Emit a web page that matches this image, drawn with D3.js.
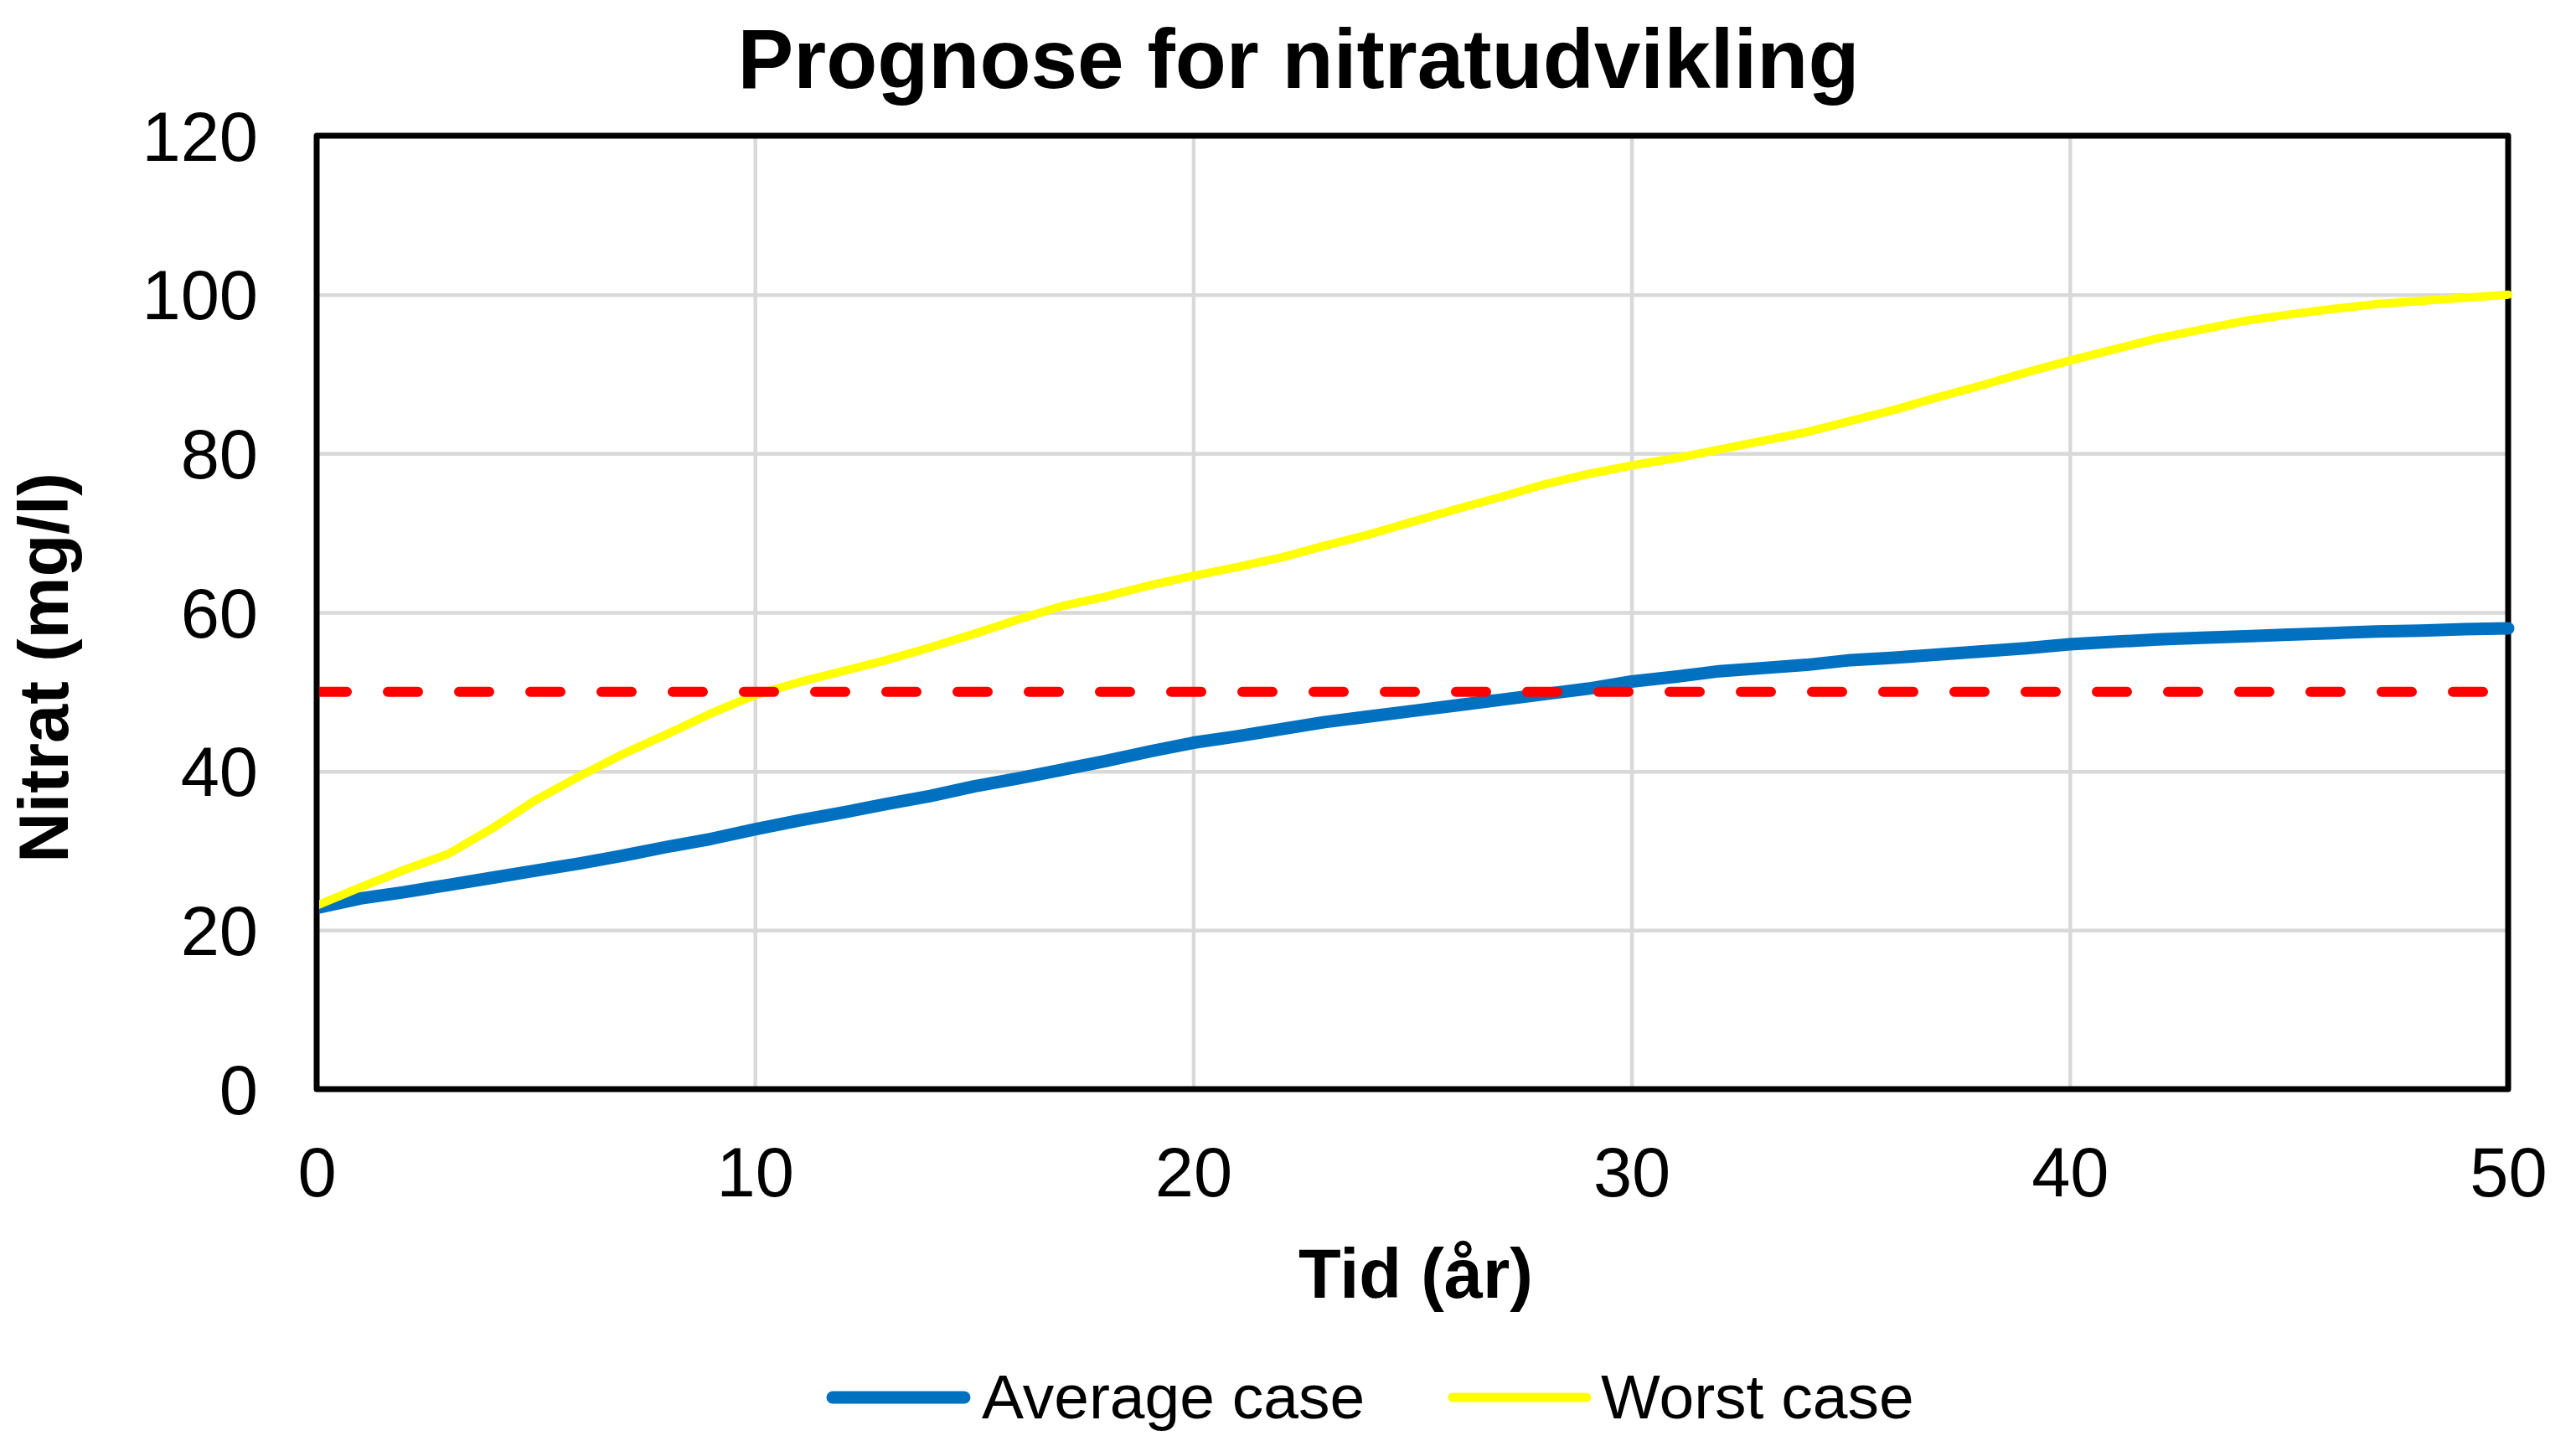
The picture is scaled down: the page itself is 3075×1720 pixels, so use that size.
<!DOCTYPE html>
<html>
<head>
<meta charset="utf-8">
<script src="https://cdn.jsdelivr.net/npm/d3@7"></script>
<style>
  html, body { margin: 0; padding: 0; background: #ffffff; }
  svg { display: block; }
</style>
</head>
<body>
<script>
// ---------------- data ----------------
const years = [0,1,2,3,4,5,6,7,8,9,10,11,12,13,14,15,16,17,18,19,20,21,22,23,24,25,26,27,28,29,30,31,32,33,34,35,36,37,38,39,40,41,42,43,44,45,46,47,48,49,50];
const averageCase = [22.8,24.0,24.8,25.7,26.6,27.5,28.4,29.4,30.5,31.5,32.7,
                     33.8,34.8,35.9,36.9,38.1,39.1,40.2,41.3,42.5,43.6,
                     44.4,45.3,46.2,46.9,47.6,48.3,49.0,49.7,50.4,51.3,
                     51.9,52.6,53.0,53.4,54.0,54.3,54.7,55.1,55.5,56.0,
                     56.3,56.6,56.8,57.0,57.2,57.4,57.6,57.7,57.9,58.0];
const worstCase = [23.1,25.4,27.6,29.6,32.8,36.4,39.4,42.2,44.7,47.3,49.6,
                   51.2,52.6,54.0,55.6,57.3,59.1,60.8,62.0,63.4,64.6,
                   65.7,66.9,68.4,69.8,71.4,73.0,74.5,76.1,77.4,78.5,
                   79.4,80.5,81.6,82.7,84.1,85.5,87.1,88.6,90.2,91.7,
                   93.1,94.5,95.6,96.7,97.5,98.2,98.8,99.2,99.6,100.0];
const limitValue = 50;
const xTicks = [0,10,20,30,40,50];
const yTicks = [0,20,40,60,80,100,120];
const seriesNames = ["Average case", "Worst case"];
const titleText = "Prognose for nitratudvikling";
const xTitle = "Tid (år)";
const yTitle = "Nitrat (mg/l)";

// ---------------- layout ----------------
const W = 3075, H = 1720;
const plot = { left: 378, right: 2994, top: 162, bottom: 1300 };
const FONT = "'Liberation Sans', Arial, Helvetica, sans-serif";
const colors = { avg: "#0070c0", worst: "#ffff00", limit: "#ff0000", grid: "#d9d9d9" };

const svg = d3.select("body").append("svg")
  .attr("width", W).attr("height", H)
  .style("font-family", FONT);

svg.append("rect").attr("width", W).attr("height", H).attr("fill", "#ffffff");

const x = d3.scaleLinear().domain([0, 50]).range([plot.left, plot.right]);
const y = d3.scaleLinear().domain([0, 120]).range([plot.bottom, plot.top]);

// gridlines
const gridY = svg.append("g").attr("transform", `translate(${plot.left},0)`)
  .call(d3.axisLeft(y).tickValues(yTicks.filter(v => v > 0 && v < 120)).tickSize(-(plot.right - plot.left)).tickFormat(""));
gridY.select(".domain").remove();
gridY.selectAll("line").attr("stroke", colors.grid).attr("stroke-width", 4.5);

const gridX = svg.append("g").attr("transform", `translate(0,${plot.bottom})`)
  .call(d3.axisBottom(x).tickValues(xTicks.filter(v => v > 0 && v < 50)).tickSize(-(plot.bottom - plot.top)).tickFormat(""));
gridX.select(".domain").remove();
gridX.selectAll("line").attr("stroke", colors.grid).attr("stroke-width", 4.5);

// plot border
svg.append("rect")
  .attr("x", plot.left).attr("y", plot.top)
  .attr("width", plot.right - plot.left).attr("height", plot.bottom - plot.top)
  .attr("fill", "none").attr("stroke", "#000").attr("stroke-width", 7)
  .attr("stroke-linejoin", "round");

// axis tick labels
const yAxis = svg.append("g").attr("transform", `translate(${plot.left},0)`)
  .call(d3.axisLeft(y).tickValues(yTicks).tickSize(0).tickPadding(70).tickFormat(d3.format("d")));
yAxis.select(".domain").remove();
yAxis.selectAll("text").attr("font-size", 83).attr("font-family", FONT).attr("fill", "#000").attr("dy", "0.35em");

const xAxis = svg.append("g").attr("transform", `translate(0,${plot.bottom})`)
  .call(d3.axisBottom(x).tickValues(xTicks).tickSize(0).tickPadding(69).tickFormat(d3.format("d")));
xAxis.select(".domain").remove();
xAxis.selectAll("text").attr("font-size", 83).attr("font-family", FONT).attr("fill", "#000");

// clip so lines start at the inner edge of the left border
svg.append("clipPath").attr("id", "lineclip")
  .append("rect").attr("x", plot.left + 3).attr("y", 0).attr("width", W).attr("height", H);

const line = d3.line().x((d, i) => x(years[i])).y(d => y(d));

const lines = svg.append("g").attr("clip-path", "url(#lineclip)");
lines.append("path").datum(averageCase)
  .attr("d", line).attr("fill", "none").attr("stroke", colors.avg)
  .attr("stroke-width", 15).attr("stroke-linejoin", "round").attr("stroke-linecap", "round");
lines.append("path").datum(worstCase)
  .attr("d", line).attr("fill", "none").attr("stroke", colors.worst)
  .attr("stroke-width", 10).attr("stroke-linejoin", "round").attr("stroke-linecap", "round");

// limit line (50 mg/l)
const limitData = years.map(() => limitValue);
svg.append("path").datum([limitData[0], limitData[limitData.length - 1]])
  .attr("d", d3.line().x((d, i) => x(i === 0 ? years[0] : years[years.length - 1])).y(d => y(d)))
  .attr("fill", "none").attr("stroke", colors.limit).attr("stroke-width", 12)
  .attr("stroke-dasharray", "36,49").attr("stroke-linecap", "round")
  .attr("clip-path", "url(#lineclip)");

// titles
svg.append("text").attr("x", 1550).attr("y", 105)
  .attr("text-anchor", "middle").attr("font-size", 100).attr("font-weight", "bold")
  .text(titleText);

svg.append("text").attr("x", 1690).attr("y", 1549)
  .attr("text-anchor", "middle").attr("font-size", 83).attr("font-weight", "bold")
  .text(xTitle);

svg.append("text").attr("transform", "translate(81,797) rotate(-90)")
  .attr("text-anchor", "middle").attr("font-size", 83).attr("font-weight", "bold")
  .text(yTitle);

// legend
const legendItems = [
  { name: seriesNames[0], color: colors.avg, width: 15, x1: 994, x2: 1151, tx: 1172 },
  { name: seriesNames[1], color: colors.worst, width: 11, x1: 1734, x2: 1894, tx: 1911 }
];
const lg = svg.append("g");
legendItems.forEach(it => {
  lg.append("line").attr("x1", it.x1).attr("x2", it.x2).attr("y1", 1668).attr("y2", 1668)
    .attr("stroke", it.color).attr("stroke-width", it.width).attr("stroke-linecap", "round");
  lg.append("text").attr("x", it.tx).attr("y", 1693).attr("font-size", 75).text(it.name);
});
</script>
</body>
</html>
